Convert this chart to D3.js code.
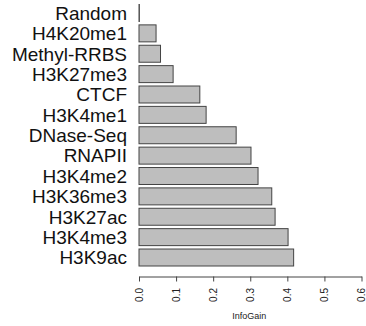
<!DOCTYPE html>
<html>
<head>
<meta charset="utf-8">
<script src="https://cdn.jsdelivr.net/npm/d3@7"></script>
<style>
  html, body { margin: 0; padding: 0; background: #fff; }
  svg { display: block; font-family: "Liberation Sans", Arial, sans-serif; }
</style>
</head>
<body>
<svg id="chart" width="366" height="326"></svg>
<script>
// Information gain per feature, top to bottom
const features = ["Random", "H4K20me1", "Methyl-RRBS", "H3K27me3", "CTCF", "H3K4me1",
  "DNase-Seq", "RNAPII", "H3K4me2", "H3K36me3", "H3K27ac", "H3K4me3", "H3K9ac"];
const infoGain = [0.001, 0.046, 0.058, 0.092, 0.164, 0.181,
  0.262, 0.302, 0.321, 0.358, 0.367, 0.402, 0.417];
const tickValues = [0, 0.1, 0.2, 0.3, 0.4, 0.5, 0.6];
const axisTitle = "InfoGain";

const svg = d3.select("#chart");

const x = d3.scaleLinear().domain([0, 0.6]).range([139, 361.5]);
const y = d3.scaleBand().domain(features).range([4.5, 266])
  .paddingInner(0.2 / 1.2).paddingOuter(0);

// bars
svg.append("g").selectAll("rect")
  .data(features)
  .join("rect")
  .attr("x", x(0))
  .attr("y", d => y(d))
  .attr("width", (d, i) => Math.max(0, x(infoGain[i]) - x(0)))
  .attr("height", y.bandwidth())
  .attr("fill", "#bebebe")
  .attr("stroke", "#444")
  .attr("stroke-width", 1);

// category labels
svg.append("g").selectAll("text")
  .data(features)
  .join("text")
  .attr("x", 127)
  .attr("y", d => y(d) + y.bandwidth() / 2)
  .attr("dy", "0.36em")
  .attr("text-anchor", "end")
  .attr("font-size", 19)
  .attr("fill", "#111")
  .text(d => d);

// x axis
const axis = svg.append("g")
  .attr("transform", "translate(0,276.5)")
  .call(d3.axisBottom(x).tickValues(tickValues).tickFormat(d3.format(".1f"))
    .tickSize(5).tickSizeOuter(0));
axis.select(".domain").attr("stroke", "#444");
axis.selectAll(".tick line").attr("stroke", "#444");
axis.selectAll(".tick text")
  .attr("transform", "translate(0,11.5) rotate(-90)")
  .attr("x", 0)
  .attr("y", 0)
  .attr("dy", "0.33em")
  .attr("text-anchor", "end")
  .attr("font-size", 10)
  .attr("font-family", "Liberation Sans, Arial, sans-serif")
  .attr("fill", "#222");

svg.append("text")
  .attr("x", (x(0) + x(0.6)) / 2 - 1)
  .attr("y", 319)
  .attr("text-anchor", "middle")
  .attr("font-size", 9)
  .attr("fill", "#222")
  .text(axisTitle);
</script>
</body>
</html>
